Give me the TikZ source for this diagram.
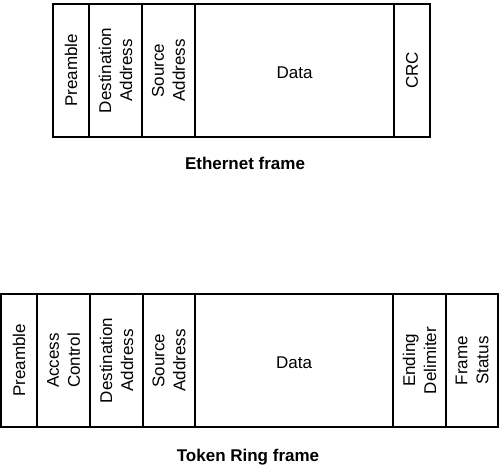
\documentclass[tikz,border=0pt]{standalone}
\usepackage{fontspec}
\setmainfont{Liberation Sans}
\begin{document}
\begin{tikzpicture}[x=1pt,y=-1pt,
  cellline/.style={line width=1.4pt},
  frameline/.style={line width=2pt},
  vlabel/.style={rotate=90,align=center,inner sep=0pt,font=\fontsize{17}{21}\selectfont},
  hlabel/.style={inner sep=0pt,font=\fontsize{17}{21}\selectfont},
  caption/.style={inner sep=0pt,font=\fontsize{17}{21}\selectfont\bfseries}]
\useasboundingbox (0,0) rectangle (500,469);
% Ethernet frame
\foreach \x in {89,142,195,394} \draw[cellline] (\x,4) -- (\x,137);
\draw[frameline] (53,4) rectangle (430,137);
\node[vlabel] (ePre) at (71,70.5) {Preamble};
\node[vlabel] (eDst) at (115.5,70.5) {Destination\\Address};
\node[vlabel] (eSrc) at (168.5,70.5) {Source\\Address};
\node[hlabel] (eData) at (294.5,73) {Data};
\node[vlabel] (eCrc) at (412,70.5) {CRC};
\node[caption] (eCap) at (245,163) {Ethernet frame};
% Token Ring frame
\foreach \x in {37,90,143,195,393,446} \draw[cellline] (\x,294) -- (\x,427);
\draw[frameline] (1,294) rectangle (498,427);
\node[vlabel] (tPre) at (19,360.5) {Preamble};
\node[vlabel] (tAcc) at (63.5,360.5) {Access\\Control};
\node[vlabel] (tDst) at (116.5,360.5) {Destination\\Address};
\node[vlabel] (tSrc) at (169,360.5) {Source\\Address};
\node[hlabel] (tData) at (294,363) {Data};
\node[vlabel] (tEnd) at (419.5,360.5) {Ending\\Delimiter};
\node[vlabel] (tSta) at (472,360.5) {Frame\\Status};
\node[caption] (tCap) at (248,457) {Token Ring frame};
\end{tikzpicture}
\end{document}
